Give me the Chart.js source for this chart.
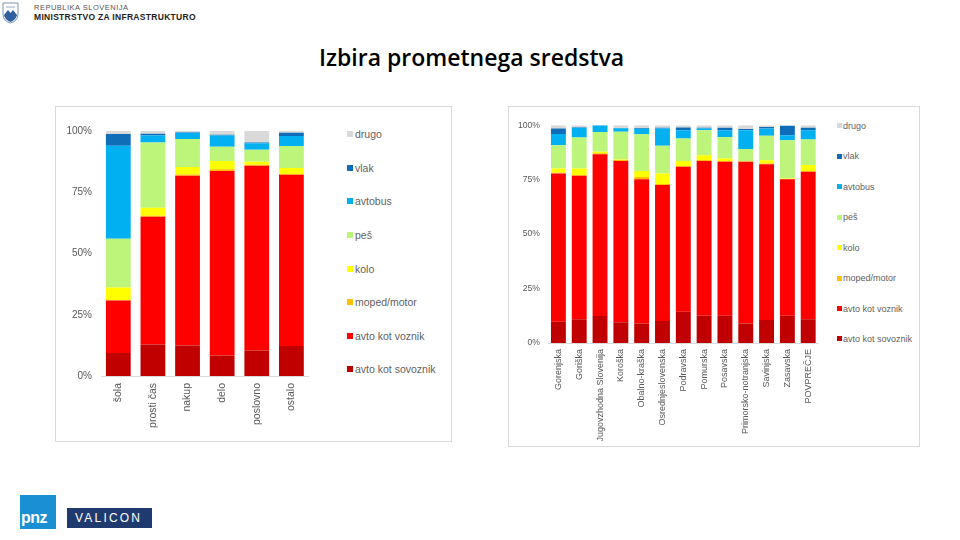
<!DOCTYPE html>
<html>
<head>
<meta charset="utf-8">
<script src="https://cdn.jsdelivr.net/npm/chart.js@4.4.1/dist/chart.umd.min.js"></script>
<style>
  body { margin: 0; width: 960px; height: 540px; background: #fff; position: relative; overflow: hidden; font-family: "Liberation Sans", Arial, sans-serif; }
  .abs { position: absolute; }
  .panel { position: absolute; border: 1px solid #d9d9d9; box-sizing: border-box; }
  .legend { position: absolute; color: #5f5f5f; }
  .legend .item { display: flex; align-items: center; white-space: nowrap; }
  .legend .box { flex: none; }
  canvas { position: absolute; }
</style>
</head>
<body>

<!-- header -->
<svg class="abs" style="left:2px;top:2px" width="17" height="22" viewBox="0 0 17 22">
  <path d="M1 1 H16 V12 Q16 19 8.5 21 Q1 19 1 12 Z" fill="#fff" stroke="#7b93b3" stroke-width="1"/>
  <path d="M2 13 L6 8 L8.5 11 L11 8 L15 13 Q14 18 8.5 20 Q3 18 2 13 Z" fill="#2f5f9e"/>
  <path d="M4 4 h9 v2 h-9 z" fill="#c9d5e6"/>
</svg>
<div class="abs" style="left:34px;top:3px;font-size:7.5px;color:#555;letter-spacing:0.5px">REPUBLIKA SLOVENIJA</div>
<div class="abs" style="left:34px;top:12px;font-size:8.5px;font-weight:bold;color:#222;letter-spacing:0.3px">MINISTRSTVO ZA INFRASTRUKTURO</div>

<div class="abs" style="left:319px;top:41px;font-family:'Open Sans',sans-serif;font-weight:600;font-size:23px;color:#000">Izbira prometnega sredstva</div>

<!-- panels -->
<div class="panel" style="left:55px;top:106px;width:397px;height:336px"></div>
<div class="panel" style="left:508px;top:106px;width:412px;height:341px"></div>

<canvas id="namenChart" style="left:56px;top:116px;width:255px;height:316px" width="255" height="316"></canvas>
<canvas id="regijaChart" style="left:509px;top:112px;width:316px;height:331px" width="316" height="331"></canvas>

<div id="namenLegend" class="legend"></div>
<div id="regijaLegend" class="legend"></div>

<!-- footer logos -->
<div class="abs" style="left:20px;top:495px;width:36px;height:34px;background:#1b8fd4"></div>
<div class="abs" style="left:21px;top:509px;font-size:16px;font-weight:bold;color:#fff;letter-spacing:-0.5px">pnz</div>
<div class="abs" style="left:67px;top:508px;width:85px;height:20px;background:#1f3a6e"></div>
<div class="abs" style="left:75px;top:511px;font-size:12px;color:#fff;letter-spacing:2.2px">VALICON</div>

<script>
// modes of transport, bottom of the stack first
const modes = ["avto kot sovoznik", "avto kot voznik", "moped/motor", "kolo", "peš", "avtobus", "vlak", "drugo"];
const modeColors = ["#c00000", "#ff0000", "#ffc000", "#ffff00", "#bdf57a", "#00b0f0", "#0f6cb6", "#d9d9d9"];
const yTicks = [0, 25, 50, 75, 100];

// left chart: trip purpose (%)
const purposes = ["šola", "prosti čas", "nakup", "delo", "poslovno", "ostalo"];
const namenSovoznik = [9.4, 12.9, 12.5, 8.4, 10.4, 12.2];
const namenVoznik   = [21.4, 52.1, 69.2, 75.3, 75.4, 69.9];
const namenMoped    = [0.2, 0.4, 0.5, 0.7, 0.4, 0.3];
const namenKolo     = [5.1, 3.3, 3.1, 3.4, 1.2, 2.5];
const namenPes      = [19.9, 26.6, 11.4, 5.8, 4.9, 9.0];
const namenAvtobus  = [38.0, 2.9, 2.6, 4.6, 2.7, 4.1];
const namenVlak     = [4.8, 0.7, 0.2, 0.3, 0.3, 1.3];
const namenDrugo    = [1.2, 1.1, 0.5, 1.5, 4.7, 0.7];

// right chart: statistical region (%)
const regions = ["Gorenjska", "Goriška", "Jugovzhodna Slovenija", "Koroška", "Obalno-kraška", "Osrednjeslovenska",
  "Podravska", "Pomurska", "Posavska", "Primorsko-notranjska", "Savinjska", "Zasavska", "POVPREČJE"];
const regijaSovoznik = [9.8, 10.9, 12.4, 9.5, 9.0, 10.1, 14.4, 12.5, 12.5, 9.0, 10.6, 12.5, 10.9];
const regijaVoznik   = [68.0, 65.9, 74.3, 74.1, 66.2, 62.4, 66.5, 71.1, 70.7, 74.2, 71.5, 62.7, 67.7];
const regijaMoped    = [0.3, 0.3, 0.4, 0.4, 1.0, 0.5, 0.3, 0.4, 0.4, 0.2, 0.3, 0.1, 0.4];
const regijaKolo     = [2.0, 3.0, 0.7, 0.2, 2.8, 4.8, 2.3, 2.2, 1.1, 0.2, 1.5, 0.2, 2.7];
const regijaPes      = [10.7, 14.2, 9.1, 12.8, 16.8, 12.7, 10.4, 11.5, 9.9, 5.4, 11.2, 17.6, 11.7];
const regijaAvtobus  = [5.1, 4.5, 3.1, 1.6, 2.6, 8.0, 3.8, 0.8, 3.1, 8.7, 3.4, 2.3, 4.3];
const regijaVlak     = [2.6, 0.2, 0.0, 0.1, 0.3, 0.3, 1.2, 0.3, 1.1, 0.5, 0.7, 4.3, 1.1];
const regijaDrugo    = [1.5, 1.0, 0.0, 1.3, 1.3, 1.2, 1.1, 1.2, 1.2, 1.8, 0.8, 0.3, 1.2];

function makeChart(id, labels, series, s) {
    const ctx = document.getElementById(id).getContext("2d");
    return new Chart(ctx, {
        type: "bar",
        data: {
            labels: labels,
            datasets: series.map((values, i) => ({
                label: modes[i],
                data: values,
                backgroundColor: modeColors[i],
                borderWidth: 0,
                barPercentage: 0.716,
                categoryPercentage: 1
            }))
        },
        options: {
            responsive: false,
            animation: false,
            layout: { padding: 0 },
            plugins: { legend: { display: false }, tooltip: { enabled: false } },
            scales: {
                x: {
                    stacked: true,
                    grid: { display: false, drawTicks: false },
                    border: { color: "#d9d9d9" },
                    ticks: {
                        autoSkip: false, minRotation: 90, maxRotation: 90, padding: s.xPad,
                        color: "#595959", font: { family: "Liberation Sans", size: s.xFont }
                    },
                    afterFit: scale => { scale.height = s.xHeight; }
                },
                y: {
                    stacked: true,
                    min: 0, max: 100,
                    grid: { display: false, drawTicks: false },
                    border: { display: false },
                    afterBuildTicks: scale => { scale.ticks = yTicks.map(v => ({ value: v })); },
                    ticks: {
                        padding: s.yPad,
                        color: "#595959", font: { family: "Liberation Sans", size: s.yFont },
                        callback: v => v + "%"
                    },
                    afterFit: scale => { scale.width = s.yWidth; }
                }
            }
        }
    });
}

// html legend, top entry = top of the stack
function makeLegend(id, s) {
    const el = document.getElementById(id);
    el.style.left = s.left + "px";
    el.style.top = (s.firstY - s.step / 2) + "px";
    el.style.fontSize = s.font + "px";
    for (let i = modes.length - 1; i >= 0; i--) {
        const item = document.createElement("div");
        item.className = "item";
        item.style.height = s.step + "px";
        const box = document.createElement("span");
        box.className = "box";
        box.style.cssText = `width:${s.box}px;height:${s.box}px;background:${modeColors[i]};margin-right:${s.gap}px`;
        item.appendChild(box);
        item.appendChild(document.createTextNode(modes[i]));
        el.appendChild(item);
    }
}

makeChart("namenChart", purposes,
    [namenSovoznik, namenVoznik, namenMoped, namenKolo, namenPes, namenAvtobus, namenVlak, namenDrugo],
    { xFont: 10.5, yFont: 10, xPad: 7, yPad: 9, xHeight: 56, yWidth: 45 });

makeChart("regijaChart", regions,
    [regijaSovoznik, regijaVoznik, regijaMoped, regijaKolo, regijaPes, regijaAvtobus, regijaVlak, regijaDrugo],
    { xFont: 9, yFont: 8.6, xPad: 6, yPad: 8, xHeight: 100, yWidth: 39 });

makeLegend("namenLegend", { left: 347, firstY: 134.3, step: 33.57, font: 10.5, box: 6, gap: 2 });
makeLegend("regijaLegend", { left: 836.5, firstY: 126, step: 30.43, font: 9, box: 5, gap: 1.5 });
</script>
</body>
</html>
